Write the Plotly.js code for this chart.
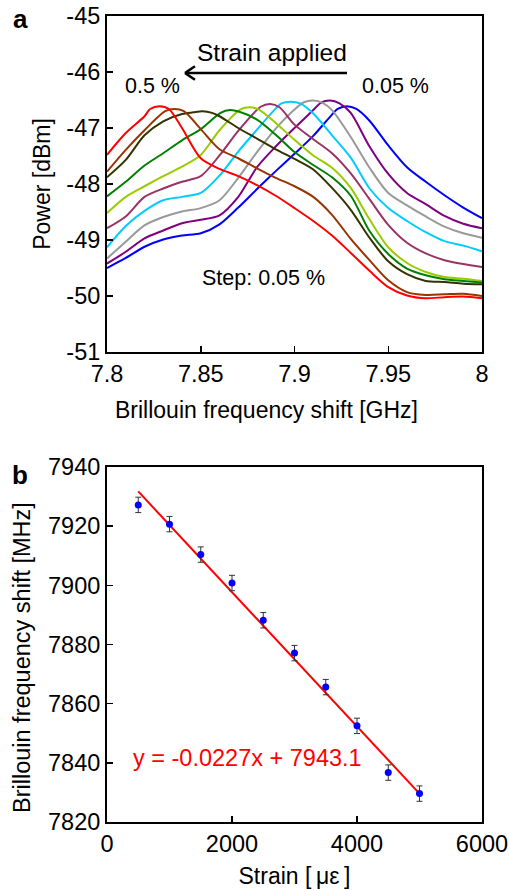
<!DOCTYPE html>
<html><head><meta charset="utf-8">
<script src="https://cdn.plot.ly/plotly-3.0.1.min.js"></script>
<style>html,body{margin:0;padding:0;background:#fff}#chart{width:509px;height:890px}</style>
</head><body><div id="chart"></div>
<script>
// ---------- Panel a: Brillouin gain spectra ----------
const freqGHz = [7.80,7.81,7.82,7.83,7.84,7.85,7.86,7.87,7.88,7.89,7.90,7.91,7.92,7.93,7.94,7.95,7.96,7.97,7.98,7.99,8.00];
const strainLabels = ['0.05 %','0.10 %','0.15 %','0.20 %','0.25 %','0.30 %','0.35 %','0.40 %','0.45 %','0.50 %'];
const curveColors = ['#0000ff','#800080','#999999','#00ccff','#993366','#99cc00','#008000','#333300','#993300','#ff0000'];
const p005 = [-49.50,-49.32,-49.12,-48.99,-48.92,-48.88,-48.72,-48.42,-48.09,-47.77,-47.46,-47.14,-46.76,-46.61,-46.87,-47.31,-47.70,-47.96,-48.20,-48.42,-48.61];
const p010 = [-49.42,-49.21,-48.97,-48.83,-48.70,-48.64,-48.56,-48.23,-47.70,-47.33,-47.00,-46.68,-46.51,-46.73,-47.33,-47.82,-48.16,-48.36,-48.57,-48.71,-48.79];
const p015 = [-49.33,-49.03,-48.74,-48.59,-48.49,-48.43,-48.29,-47.89,-47.43,-47.01,-46.67,-46.51,-46.68,-47.16,-47.71,-48.16,-48.38,-48.58,-48.76,-48.88,-48.96];
const p020 = [-49.13,-48.75,-48.48,-48.29,-48.23,-48.16,-47.85,-47.42,-47.03,-46.65,-46.53,-46.74,-47.13,-47.53,-48.08,-48.43,-48.66,-48.86,-49.02,-49.10,-49.20];
const p025 = [-48.79,-48.58,-48.23,-48.08,-47.96,-47.86,-47.49,-47.05,-46.68,-46.62,-46.94,-47.20,-47.45,-47.81,-48.27,-48.73,-49.05,-49.24,-49.36,-49.43,-49.48];
const p030 = [-48.52,-48.23,-48.04,-47.86,-47.69,-47.48,-47.04,-46.66,-46.65,-46.91,-47.21,-47.49,-47.71,-48.07,-48.63,-49.13,-49.41,-49.57,-49.66,-49.69,-49.73];
const p035 = [-48.22,-47.96,-47.67,-47.45,-47.22,-47.02,-46.78,-46.70,-46.85,-47.12,-47.43,-47.66,-47.88,-48.21,-48.84,-49.25,-49.51,-49.63,-49.70,-49.73,-49.76];
const p040 = [-47.88,-47.57,-47.13,-46.88,-46.75,-46.70,-46.79,-47.00,-47.19,-47.38,-47.55,-47.74,-48.07,-48.46,-48.96,-49.38,-49.61,-49.73,-49.75,-49.78,-49.79];
const p045 = [-47.78,-47.39,-47.04,-46.77,-46.75,-47.02,-47.38,-47.54,-47.72,-47.89,-48.04,-48.23,-48.55,-48.98,-49.36,-49.72,-49.93,-49.98,-49.97,-49.96,-50.00];
const p050 = [-47.48,-47.09,-46.79,-46.61,-47.00,-47.54,-47.73,-47.86,-48.02,-48.21,-48.43,-48.66,-48.92,-49.23,-49.55,-49.84,-49.99,-50.04,-50.02,-50.01,-50.04];
// peak of each spectrum and the levels just either side of it (peak frequency -/+ 0.005 GHz)
const peakFreqGHz = [7.928,7.919,7.910,7.898,7.887,7.876,7.8656,7.851,7.836,7.828];
const peakPowerDbm = [-46.61,-46.51,-46.51,-46.53,-46.57,-46.63,-46.68,-46.70,-46.66,-46.61];
const peakLeftDbm  = [-46.66,-46.55,-46.54,-46.56,-46.62,-46.67,-46.73,-46.72,-46.70,-46.66];
const peakRightDbm = [-46.66,-46.56,-46.55,-46.56,-46.63,-46.67,-46.71,-46.73,-46.70,-46.66];

// ---------- Panel b: BFS vs strain ----------
const strainUe = [500,1000,1500,2000,2500,3000,3500,4000,4500,5000];
const bfsMHz = [7927.2,7920.7,7910.4,7900.8,7888.2,7877.1,7865.6,7852.5,7836.7,7829.6];
const bfsErrMHz = [2.6,2.6,2.6,2.6,2.6,2.6,2.6,2.6,2.6,2.6];
const fitStrainUe = [500,5000];
const fitBfsMHz = [7931.75,7829.6];
const fitLabel = 'y = -0.0227x + 7943.1';

const yTicksA = [-51,-50,-49,-48,-47,-46,-45];

const spectra = [p005,p010,p015,p020,p025,p030,p035,p040,p045,p050];
const NEAR = 0.005;
const traces = [];
spectra.forEach((pw, i) => {
  const pk = peakFreqGHz[i];
  const pts = [];
  freqGHz.forEach((f, k) => { if (Math.abs(f - pk) > 0.0075) pts.push([f, pw[k]]); });
  pts.push([pk - NEAR, peakLeftDbm[i]], [pk, peakPowerDbm[i]], [pk + NEAR, peakRightDbm[i]]);
  pts.sort((a, b) => a[0] - b[0]);
  traces.push({
    type:'scatter', mode:'lines', name: strainLabels[i],
    x: pts.map(p => p[0]), y: pts.map(p => p[1]),
    xaxis:'x', yaxis:'y',
    line:{color: curveColors[i], width:2, shape:'spline', smoothing:0.8},
    hoverinfo:'skip'
  });
});
traces.push({
  type:'scatter', mode:'lines', x: fitStrainUe, y: fitBfsMHz, xaxis:'x2', yaxis:'y2',
  line:{color:'#ff0000', width:2}, hoverinfo:'skip'
});
traces.push({
  type:'scatter', mode:'markers', x: strainUe, y: bfsMHz, xaxis:'x2', yaxis:'y2',
  marker:{color:'#0000ff', size:7},
  error_y:{type:'data', array: bfsErrMHz, visible:true, color:'#333333', thickness:1, width:3}
});

const FONT = 'Liberation Sans, Arial, sans-serif';
const axisCommon = {
  showgrid:false, zeroline:false, showline:true, linecolor:'#000', linewidth:2, mirror:true,
  ticks:'inside', ticklen:6, tickwidth:1.5, tickcolor:'#000',
  tickfont:{family:FONT, size:23.5, color:'#000'}
};

const layout = {
  width:509, height:890,
  margin:{l:107, r:27, t:16, b:68},
  paper_bgcolor:'#fff', plot_bgcolor:'#fff',
  font:{family:FONT, size:23, color:'#000'},
  showlegend:false,
  xaxis:Object.assign({}, axisCommon, {domain:[0,1], anchor:'y', range:[7.8,8], dtick:0.05, tick0:7.8}),
  yaxis:Object.assign({}, axisCommon, {domain:[0.5831,1], anchor:'x', range:[-51,-45],
    tickvals: yTicksA, ticktext: yTicksA.map(String),
    title:{text:'Power [dBm]', standoff:9, font:{family:FONT, size:23}}}),
  xaxis2:Object.assign({}, axisCommon, {domain:[0,1], anchor:'y2', range:[0,6000], dtick:2000,
    title:{text:'Strain [\u2009\u03bc\u03b5\u2009]', standoff:12, font:{family:FONT, size:23}}}),
  yaxis2:Object.assign({}, axisCommon, {domain:[0,0.4404], anchor:'x2', range:[7820,7940], dtick:20}),
  annotations:[
    {xref:'paper', yref:'paper', x:0.424, y:0.511, text:'Brillouin frequency shift [GHz]', showarrow:false, font:{family:FONT, size:23}, xanchor:'center', yanchor:'middle'},
    {xref:'paper', yref:'paper', x:-0.2267, y:0.2047, text:'Brillouin frequency shift [MHz]', textangle:-90, showarrow:false, font:{family:FONT, size:23.5}, xanchor:'center', yanchor:'middle'},
    {xref:'paper', yref:'paper', x:-0.232, y:0.9957, text:'<b>a</b>', showarrow:false, font:{family:FONT, size:26}, xanchor:'center', yanchor:'middle'},
    {xref:'paper', yref:'paper', x:-0.232, y:0.430, text:'<b>b</b>', showarrow:false, font:{family:FONT, size:26}, xanchor:'center', yanchor:'middle'},
    {xref:'x', yref:'y', x:7.888, y:-45.66, text:'Strain applied', showarrow:false, font:{family:FONT, size:24.5}},
    {xref:'x', yref:'y', x:7.824, y:-46.25, text:'0.5 %', showarrow:false, font:{family:FONT, size:21.5}},
    {xref:'x', yref:'y', x:7.9536, y:-46.25, text:'0.05 %', showarrow:false, font:{family:FONT, size:21.5}},
    {xref:'x', yref:'y', x:7.8835, y:-49.67, text:'Step: 0.05 %', showarrow:false, font:{family:FONT, size:21.5}},
    {xref:'x2', yref:'y2', x:2246, y:7841.7, text:fitLabel, showarrow:false, font:{family:FONT, size:23.5, color:'#ff0000'}}
  ],
  shapes:[
    {type:'line', xref:'x', yref:'y', x0:7.928, x1:7.8425, y0:-46.018, y1:-46.018, line:{color:'#000', width:2.6}},
    {type:'line', xref:'x', yref:'y', x0:7.8416, x1:7.8469, y0:-46.018, y1:-45.898, line:{color:'#000', width:2.6}},
    {type:'line', xref:'x', yref:'y', x0:7.8416, x1:7.8469, y0:-46.018, y1:-46.138, line:{color:'#000', width:2.6}}
  ]
};

Plotly.newPlot('chart', traces, layout, {displayModeBar:false, staticPlot:true});
</script></body></html>
